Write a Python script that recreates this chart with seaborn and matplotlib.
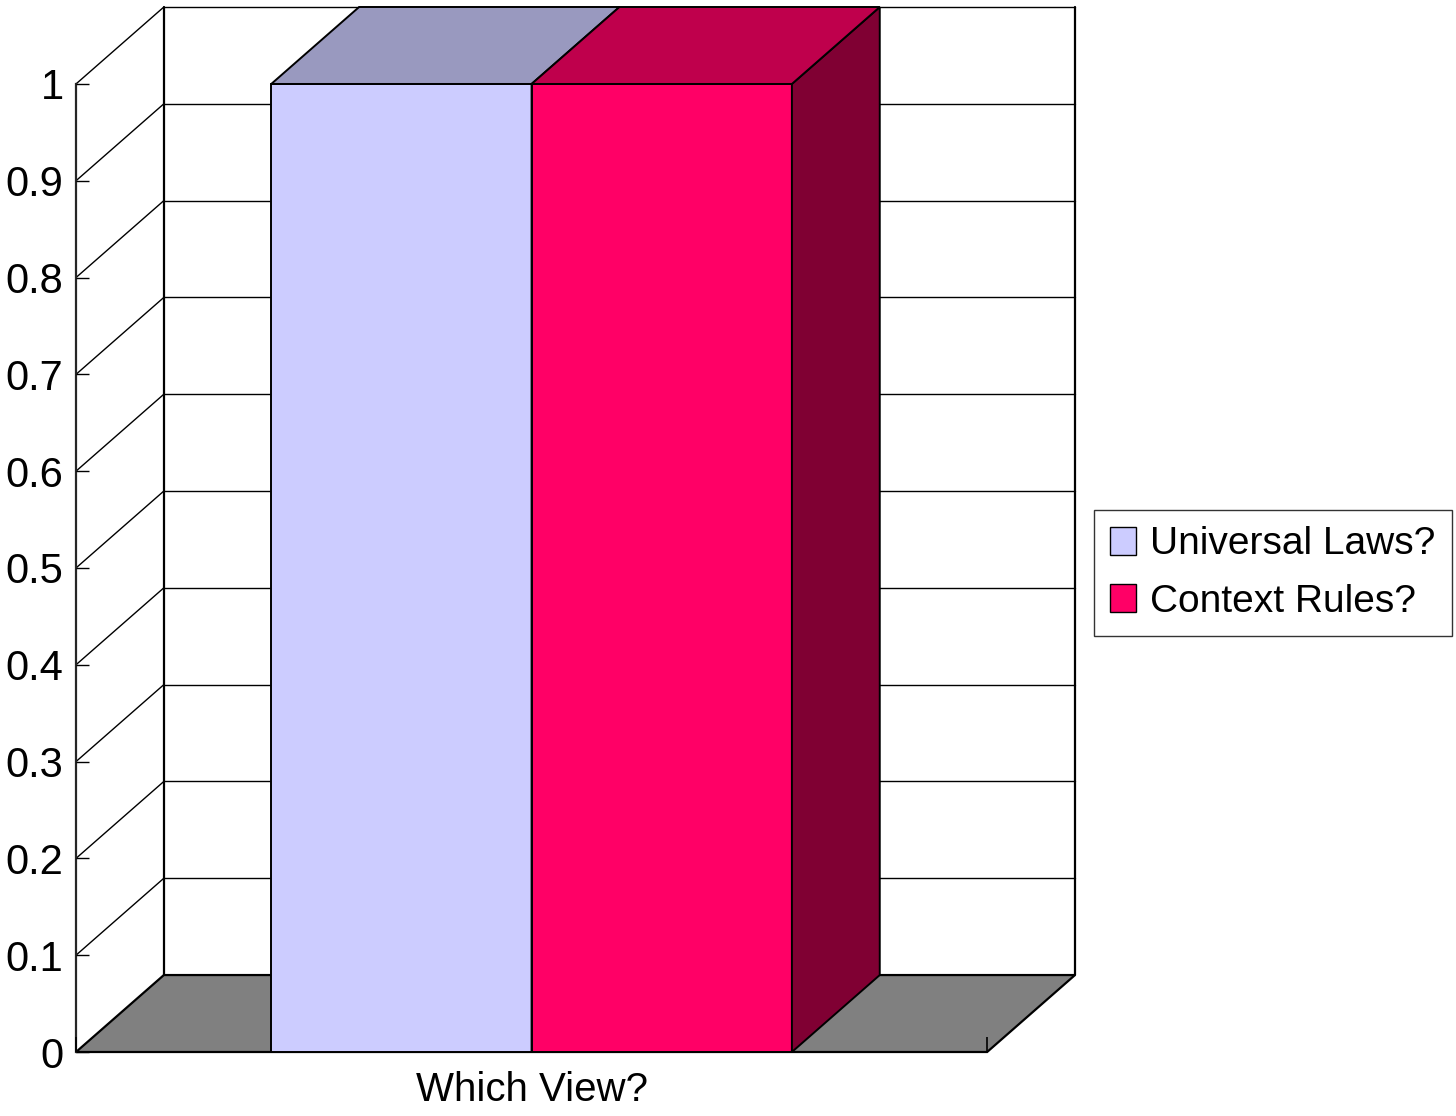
import matplotlib
matplotlib.use("Agg")
import matplotlib.pyplot as plt
from matplotlib.patches import Polygon, Patch
from matplotlib.lines import Line2D
import seaborn as sns
import pandas as pd

# ---- data -------------------------------------------------------------
categories = ["Which View?"]
series = ["Universal Laws?", "Context Rules?"]
values = [1.0, 1.0]
y_ticks = [0, 0.1, 0.2, 0.3, 0.4, 0.5, 0.6, 0.7, 0.8, 0.9, 1.0]
y_tick_labels = ["0", "0.1", "0.2", "0.3", "0.4", "0.5", "0.6", "0.7", "0.8", "0.9", "1"]

# ---- style ------------------------------------------------------------
front_colors = ["#CCCCFF", "#FF0066"]
top_colors = ["#9999BF", "#BF004C"]
side_colors = ["#666680", "#800033"]
floor_color = "#808080"

sns.set_style("white")
plt.rcParams["font.family"] = ["Liberation Sans", "DejaVu Sans"]
plt.rcParams["text.color"] = "black"
plt.rcParams["xtick.color"] = "black"
plt.rcParams["ytick.color"] = "black"

df = pd.DataFrame({
    "category": [categories[0]] * len(series),
    "series": series,
    "value": values,
})

fig = plt.figure(figsize=(14.56, 11.16), dpi=100)
ax = fig.add_axes([76 / 1456, 1 - 1052 / 1116, (1075 - 76) / 1456, (1052 - 7) / 1116])

sns.barplot(data=df, x="category", y="value", hue="series", palette=front_colors,
            saturation=1, width=0.8, edgecolor="black", linewidth=1.4,
            legend=False, ax=ax)
bars = list(ax.patches)

# depth offset of the pseudo-3D box and the front floor extent
DX, DY = 0.135, 0.0795
X0, X1 = -0.7, 0.7
ax.set_xlim(X0, X1 + DX)
ax.set_ylim(0, y_ticks[-1] + DY)

line_kw = dict(color="black", lw=1.0, zorder=0.5, clip_on=False)
# back wall gridlines and the diagonal lines on the left wall
for v in y_ticks[1:]:
    ax.add_line(Line2D([X0 + DX, X1 + DX], [v + DY, v + DY], **line_kw))
    ax.add_line(Line2D([X0, X0 + DX], [v, v + DY], **line_kw))
# back wall outline
wall_kw = dict(color="black", lw=1.6, zorder=0.6, clip_on=False)
ax.add_line(Line2D([X0 + DX, X0 + DX], [DY, y_ticks[-1] + DY], **wall_kw))
ax.add_line(Line2D([X1 + DX, X1 + DX], [DY, y_ticks[-1] + DY], **wall_kw))

# floor
ax.add_patch(Polygon([(X0, 0), (X1, 0), (X1 + DX, DY), (X0 + DX, DY)],
                     closed=True, facecolor=floor_color, edgecolor="black",
                     lw=1.6, zorder=1, clip_on=False))

# extrude each bar: right side face and top face
for i, bar in enumerate(bars):
    x, w, h = bar.get_x(), bar.get_width(), bar.get_height()
    z = 3 + 3 * i
    bar.set_zorder(z)
    ax.add_patch(Polygon([(x + w, 0), (x + w + DX, DY), (x + w + DX, h + DY), (x + w, h)],
                         closed=True, facecolor=side_colors[i], edgecolor="black",
                         lw=1.4, zorder=z + 1, clip_on=False))
    ax.add_patch(Polygon([(x, h), (x + w, h), (x + w + DX, h + DY), (x + DX, h + DY)],
                         closed=True, facecolor=top_colors[i], edgecolor="black",
                         lw=1.4, zorder=z + 2, clip_on=False))

# axes and ticks
ax.set_axisbelow(False)
for s in ["top", "right", "bottom"]:
    ax.spines[s].set_visible(False)
ax.spines["left"].set_bounds(0, y_ticks[-1])
ax.spines["left"].set_linewidth(1.6)
ax.spines["left"].set_zorder(2)
ax.set_yticks(y_ticks)
ax.set_yticklabels(y_tick_labels)
ax.tick_params(axis="y", left=True, direction="in", length=9.4, width=1.0, pad=9,
               labelsize=30, colors="black")
ax.set_xticks([0])
ax.set_xticklabels(categories)
ax.set_xticks([X0, X1], minor=True)
ax.tick_params(axis="x", which="major", bottom=True, length=0, pad=14, labelsize=29)
ax.tick_params(axis="x", which="minor", bottom=True, direction="in", length=11,
               width=1.2, color="black")
ax.xaxis.set_zorder(20)
ax.set_xlabel("")
ax.set_ylabel("")
ax.grid(False)

handles = [Patch(facecolor=c, edgecolor="black", linewidth=1.0, label=s)
           for c, s in zip(front_colors, series)]
leg = fig.legend(handles=handles, loc="upper left",
                 bbox_to_anchor=(1094 / 1456, 1 - 510 / 1116), borderaxespad=0,
                 prop={"family": ["Liberation Sans", "DejaVu Sans"], "size": 28},
                 frameon=True, fancybox=False, edgecolor="black",
                 handlelength=0.65, handleheight=0.72, handletextpad=0.38,
                 labelspacing=0.55, borderpad=0.42)
leg.get_frame().set_linewidth(1.0)
for t in leg.get_texts():
    t.set_color("black")

fig.savefig("out.png", dpi=100)
